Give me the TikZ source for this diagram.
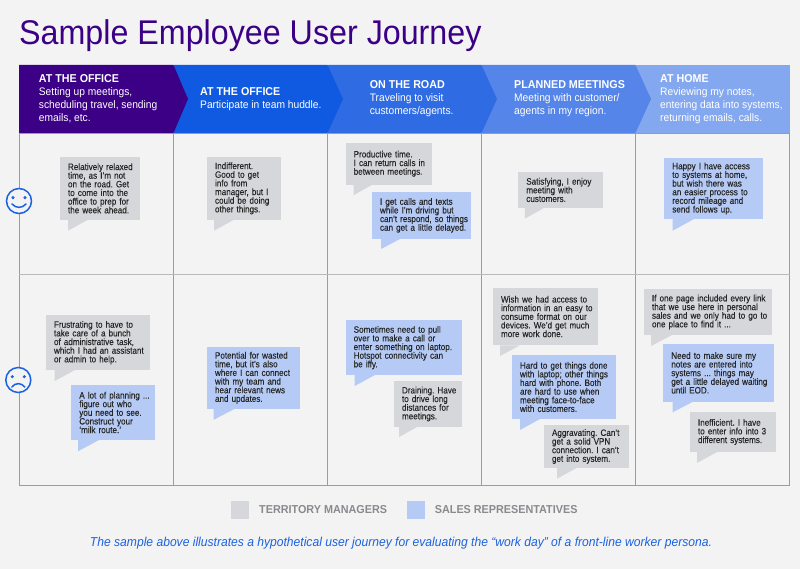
\documentclass[tikz,border=0pt]{standalone}
\usepackage{fontspec}
\setmainfont[FakeStretch=0.94]{Liberation Sans}
\newfontfamily\bubblefont[Ligatures=TeX,FakeStretch=0.875,FakeBold=0.12]{Liberation Sans}
\usepackage{xcolor}
\usetikzlibrary{positioning}
\definecolor{pagebg}{HTML}{F3F3F4}
\definecolor{purplehead}{HTML}{3B0086}
\definecolor{bluea}{HTML}{0F5AE0}
\definecolor{blueb}{HTML}{2F6BE3}
\definecolor{bluec}{HTML}{5585E8}
\definecolor{blued}{HTML}{84A8EF}
\definecolor{tmfill}{HTML}{D6D7DA}
\definecolor{repfill}{HTML}{B5CAF5}
\definecolor{gridline}{HTML}{9C9CA0}
\definecolor{legendtext}{HTML}{8A8A8E}
\definecolor{facecol}{HTML}{1A62E0}
\newcommand{\headline}[1]{{\fontsize{11.4}{13}\bfseries\selectfont #1}}

\begin{document}
\frenchspacing
\begin{tikzpicture}[
  x=1pt, y=-1pt,
  bubble/.style={anchor=north west, inner xsep=8pt, inner ysep=0pt, outer sep=0pt, align=left,
    text=black!85, font=\bubblefont\fontsize{9.25}{8.65}\selectfont,
    execute at begin node={\rightskip=-40pt plus 1fil\hyphenpenalty=10000\relax}},
  tm/.style={bubble, fill=tmfill},
  rep/.style={bubble, fill=repfill},
  head/.style={anchor=west, inner sep=0pt, align=left, text=white, font=\fontsize{10.9}{13}\selectfont},
  grid/.style={draw=gridline, line width=0.9pt},
  face/.style={circle, draw=facecol, fill=pagebg, line width=1.5pt, minimum size=25pt, inner sep=0pt},
  swatch/.style={minimum size=17.5pt, inner sep=0pt},
  legend/.style={anchor=west, inner sep=0pt, text=legendtext, font=\fontsize{11.5}{13}\bfseries\selectfont}
]
\fill[pagebg] (0,0) rectangle (800,569);
\node[anchor=west, inner sep=0pt, text=purplehead, font=\fontsize{34.3}{40}\selectfont] (title) at (19,36) {Sample Employee User Journey};

% chevrons, last one first so that each tip lies on the next
\fill[blued] (635.5,65) rectangle (789.5,133);
\fill[bluec] (481.5,65) -- (635.5,65) -- (651,99) -- (635.5,133) -- (481.5,133) -- cycle;
\fill[blueb] (327.5,65) -- (481.5,65) -- (497,99) -- (481.5,133) -- (327.5,133) -- cycle;
\fill[bluea] (173.5,65) -- (327.5,65) -- (343,99) -- (327.5,133) -- (173.5,133) -- cycle;
\fill[purplehead] (19,65) -- (173.5,65) -- (188,99) -- (173.5,133) -- (19,133) -- cycle;

\node[head] (headA) at (38.7,99) {\headline{AT THE OFFICE}\\Setting up meetings,\\scheduling travel, sending\\emails, etc.};
\node[head] (headB) at (200,99) {\headline{AT THE OFFICE}\\Participate in team huddle.};
\node[head] (headC) at (369.6,99) {\headline{ON THE ROAD}\\Traveling to visit\\customers/agents.};
\node[head] (headD) at (514,99) {\headline{PLANNED MEETINGS}\\Meeting with customer/\\agents in my region.};
\node[head] (headE) at (660,99) {\headline{AT HOME}\\Reviewing my notes,\\entering data into systems,\\returning emails, calls.};

% grid
\draw[grid] (19.3,133) rectangle (789.5,485.5);
\draw[grid] (173.5,133) -- (173.5,485.5);
\draw[grid] (327.5,133) -- (327.5,485.5);
\draw[grid] (481.5,133) -- (481.5,485.5);
\draw[grid] (635.5,133) -- (635.5,485.5);
\draw[grid, draw=gridline!70] (19.3,274.7) -- (789.5,274.7);

% faces
\node[face] (happy) at (19,201) {};
\fill[facecol] ([shift={(-6pt,3.3pt)}]happy.center) circle (1.7pt) ([shift={(6pt,3.3pt)}]happy.center) circle (1.7pt);
\draw[facecol, line width=1.5pt, line cap=round] ([shift={(-7pt,-3pt)}]happy.center) .. controls ([shift={(-3pt,-7.5pt)}]happy.center) and ([shift={(3pt,-7.5pt)}]happy.center) .. ([shift={(7pt,-3pt)}]happy.center);
\node[face] (sad) at (18.3,380) {};
\fill[facecol] ([shift={(-6pt,3.3pt)}]sad.center) circle (1.7pt) ([shift={(6pt,3.3pt)}]sad.center) circle (1.7pt);
\draw[facecol, line width=1.5pt, line cap=round] ([shift={(-6.5pt,-7pt)}]sad.center) .. controls ([shift={(-3pt,-2.5pt)}]sad.center) and ([shift={(3pt,-2.5pt)}]sad.center) .. ([shift={(6.5pt,-7pt)}]sad.center);

% upper row
\node[tm, text width=64pt, minimum height=62.7pt] (relaxed) at (60,157) {Relatively relaxed\\time, as I'm not\\on the road. Get\\to come into the\\office to prep for\\the week ahead.};
\fill[tmfill] ([xshift=8pt]relaxed.south west) -- ++(0,11) -- ++(20,-11) -- cycle;
\node[tm, text width=57.5pt, minimum height=62.7pt] (indiff) at (207,157) {Indifferent.\\Good to get\\info from\\manager, but I\\could be doing\\other things.};
\fill[tmfill] ([xshift=7pt]indiff.south west) -- ++(0,11) -- ++(20,-11) -- cycle;
\node[tm, text width=70pt, minimum height=42pt] (productive) at (345.7,142.7) {Productive time.\\I can return calls in\\between meetings.};
\fill[tmfill] ([xshift=8pt]productive.south west) -- ++(0,10.5) -- ++(18.5,-10.5) -- cycle;
\node[rep, text width=82.7pt, minimum height=47.3pt] (calls) at (372,191.7) {I get calls and texts\\while I'm driving but\\can't respond, so things\\can get a little delayed.};
\fill[repfill] ([xshift=9pt]calls.south west) -- ++(0,10) -- ++(19,-10) -- cycle;
\node[tm, text width=68.4pt, minimum height=35.4pt] (satisfy) at (518.3,172.3) {Satisfying, I enjoy\\meeting with\\customers.};
\fill[tmfill] ([xshift=6.5pt]satisfy.south west) -- ++(0,11) -- ++(19.5,-11) -- cycle;
\node[rep, text width=82.4pt, minimum height=61pt] (happyhome) at (664.3,158) {Happy I have access\\to systems at home,\\but wish there was\\an easier process to\\record mileage and\\send follows up.};
\fill[repfill] ([xshift=8.4pt]happyhome.south west) -- ++(0,11.7) -- ++(21.3,-11.7) -- cycle;

% lower row
\node[tm, text width=88pt, minimum height=54.7pt] (admin) at (46,315.3) {Frustrating to have to\\take care of a bunch\\of administrative task,\\which I had an assistant\\or admin to help.};
\fill[tmfill] ([xshift=8.7pt]admin.south west) -- ++(0,11) -- ++(20.3,-11) -- cycle;
\node[rep, text width=67.7pt, minimum height=55pt] (planning) at (71.3,385) {A lot of planning ...\\figure out who\\you need to see.\\Construct your\\`milk route.'};
\fill[repfill] ([xshift=6.7pt]planning.south west) -- ++(0,11.3) -- ++(21,-11.3) -- cycle;
\node[rep, text width=76.7pt, minimum height=61.7pt] (wasted) at (207,347) {Potential for wasted\\time, but it's also\\where I can connect\\with my team and\\hear relevant news\\and updates.};
\fill[repfill] ([xshift=6.7pt]wasted.south west) -- ++(0,11) -- ++(21.3,-11) -- cycle;
\node[rep, text width=100.3pt, minimum height=54.7pt] (pull) at (345.7,320.3) {Sometimes need to pull\\over to make a call or\\enter something on laptop.\\Hotspot connectivity can\\be iffy.};
\fill[repfill] ([xshift=9pt]pull.south west) -- ++(0,11) -- ++(20.3,-11) -- cycle;
\node[tm, text width=51.7pt, minimum height=46pt] (draining) at (394,381) {Draining. Have\\to drive long\\distances for\\meetings.};
\fill[tmfill] ([xshift=5pt]draining.south west) -- ++(0,10) -- ++(18,-10) -- cycle;
\node[tm, text width=89pt, minimum height=57.6pt] (access) at (493,287.7) {Wish we had access to\\information in an easy to\\consume format on our\\devices. We'd get much\\more work done.};
\fill[tmfill] ([xshift=7pt]access.south west) -- ++(0,10.7) -- ++(20,-10.7) -- cycle;
\node[rep, text width=88pt, minimum height=64pt] (laptop) at (512,355) {Hard to get things done\\with laptop; other things\\hard with phone. Both\\are hard to use when\\meeting face-to-face\\with customers.};
\fill[repfill] ([xshift=8pt]laptop.south west) -- ++(0,11) -- ++(20,-11) -- cycle;
\node[tm, text width=69pt, minimum height=42.4pt] (vpn) at (544,425.3) {Aggravating. Can't\\get a solid VPN\\connection. I can't\\get into system.};
\fill[tmfill] ([xshift=13pt]vpn.south west) -- ++(0,11) -- ++(20,-11) -- cycle;
\node[tm, text width=112pt, minimum height=46pt] (onepage) at (644,289) {If one page included every link\\that we use here in personal\\sales and we only had to go to\\one place to find it ...};
\fill[tmfill] ([xshift=7pt]onepage.south west) -- ++(0,11) -- ++(21,-11) -- cycle;
\node[rep, text width=94.7pt, minimum height=57.7pt] (notes) at (663.3,344) {Need to make sure my\\notes are entered into\\systems ... things may\\get a little delayed waiting\\until EOD.};
\fill[repfill] ([xshift=9.4pt]notes.south west) -- ++(0,10.6) -- ++(20.3,-10.6) -- cycle;
\node[tm, text width=70.3pt, minimum height=40pt] (inefficient) at (690,412) {Inefficient. I have\\to enter info into 3\\different systems.};
\fill[tmfill] ([xshift=7pt]inefficient.south west) -- ++(0,11) -- ++(20,-11) -- cycle;

% legend
\node[swatch, fill=tmfill] (swatchtm) at (239.8,510) {};
\node[legend] (labeltm) at (259,510) {TERRITORY MANAGERS};
\node[swatch, fill=repfill] (swatchrep) at (416.2,510) {};
\node[legend] (labelrep) at (434.7,510) {SALES REPRESENTATIVES};

\node[inner sep=0pt, text=facecol, font=\fontsize{12.87}{15}\itshape\selectfont] (caption) at (401,543) {The sample above illustrates a hypothetical user journey for evaluating the “work day” of a front-line worker persona.};
\end{tikzpicture}
\end{document}
